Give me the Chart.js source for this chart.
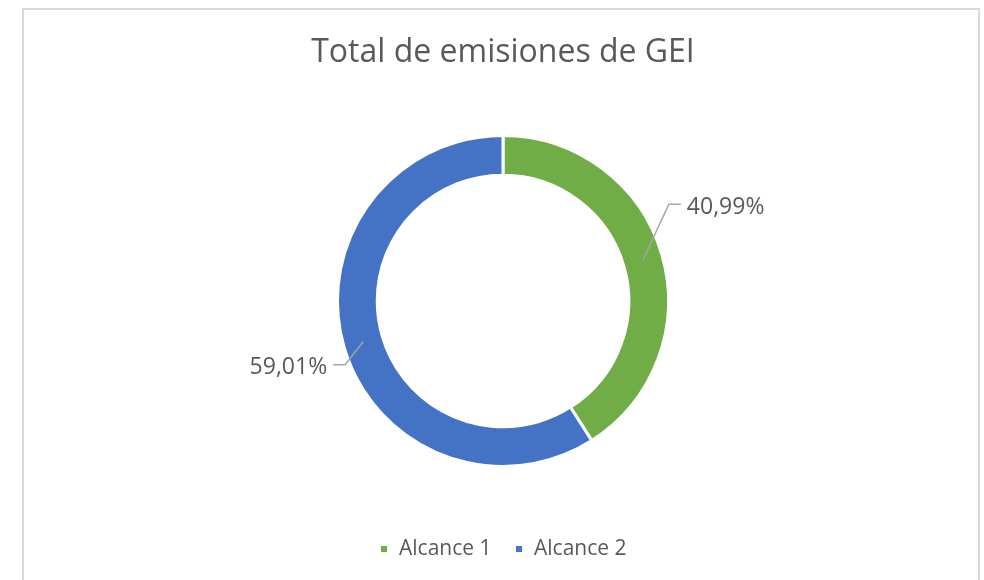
<!doctype html>
<html lang="es">
<head>
<meta charset="utf-8">
<title>Total de emisiones de GEI</title>
<script src="https://cdn.jsdelivr.net/npm/chart.js@4.4.4/dist/chart.umd.min.js"></script>
<style>
  html, body { margin: 0; background: #fff; }
  .wrap { position: relative; width: 984px; height: 580px; }
  .frame {
    position: absolute; left: 22px; top: 8px; width: 958px; height: 600px;
    border: 2px solid #d9d9d9; box-sizing: border-box; pointer-events: none;
  }
</style>
</head>
<body>
<div class="wrap">
  <canvas id="chart" width="984" height="580"></canvas>
  <div class="frame"></div>
</div>
<script>
const labels = ["Alcance 1", "Alcance 2"];
const shares = [40.99, 59.01];
const colors = ["#70ad47", "#4472c4"];

const TEXT = "#595959";
const FONT = "'Open Sans', 'Noto Sans', sans-serif";

// Excel-style data labels: leader line from the middle of each ring segment,
// an elbow, a short horizontal run, then the percentage.
const leaderLabels = {
  id: "leaderLabels",
  afterDatasetsDraw(chart, args, opts) {
    const { ctx } = chart;
    const meta = chart.getDatasetMeta(0);
    ctx.save();
    ctx.font = `${opts.size}px ${FONT}`;
    ctx.textBaseline = "middle";
    meta.data.forEach((arc, i) => {
      const { x, y, startAngle, endAngle, innerRadius, outerRadius } =
        arc.getProps(["x", "y", "startAngle", "endAngle", "innerRadius", "outerRadius"], true);
      const mid = (startAngle + endAngle) / 2;
      const r = (innerRadius + outerRadius) / 2;
      const px = x + Math.cos(mid) * r;
      const py = y + Math.sin(mid) * r;
      const [dx, dy] = opts.elbows[i];
      const ex = px + dx, ey = py + dy;
      const right = dx > 0;
      const hx = ex + (right ? opts.run : -opts.run);
      ctx.strokeStyle = "#a6a6a6";
      ctx.lineWidth = 1.5;
      ctx.beginPath();
      ctx.moveTo(px, py);
      ctx.lineTo(ex, ey);
      ctx.lineTo(hx, ey);
      ctx.stroke();
      ctx.fillStyle = TEXT;
      ctx.textAlign = right ? "left" : "right";
      const txt = shares[i].toFixed(2).replace(".", ",") + "%";
      ctx.fillText(txt, hx + (right ? opts.gap : -opts.gap), ey + 3);
    });
    ctx.restore();
  },
};

new Chart(document.getElementById("chart"), {
  type: "doughnut",
  data: {
    labels,
    datasets: [{
      data: shares,
      backgroundColor: colors,
      borderColor: "#ffffff",
      borderWidth: 3,
      hoverOffset: 0,
    }],
  },
  options: {
    responsive: false,
    animation: false,
    radius: 165.5,
    cutout: "76%",
    layout: { padding: { left: 22, right: 0, top: 0, bottom: 10.5 } },
    plugins: {
      tooltip: { enabled: false },
      title: {
        display: true,
        text: "Total de emisiones de GEI",
        color: TEXT,
        font: { family: FONT, size: 32, weight: "normal" },
        padding: { top: 34, bottom: 14 },
      },
      legend: {
        position: "bottom",
        labels: {
          color: TEXT,
          font: { family: FONT, size: 21 },
          boxWidth: 9,
          boxHeight: 9,
          padding: 23,
        },
      },
      leaderLabels: { size: 23, elbows: [[26, -56], [-18, 23]], run: 12, gap: 6 },
    },
  },
  plugins: [leaderLabels],
});
</script>
</body>
</html>
